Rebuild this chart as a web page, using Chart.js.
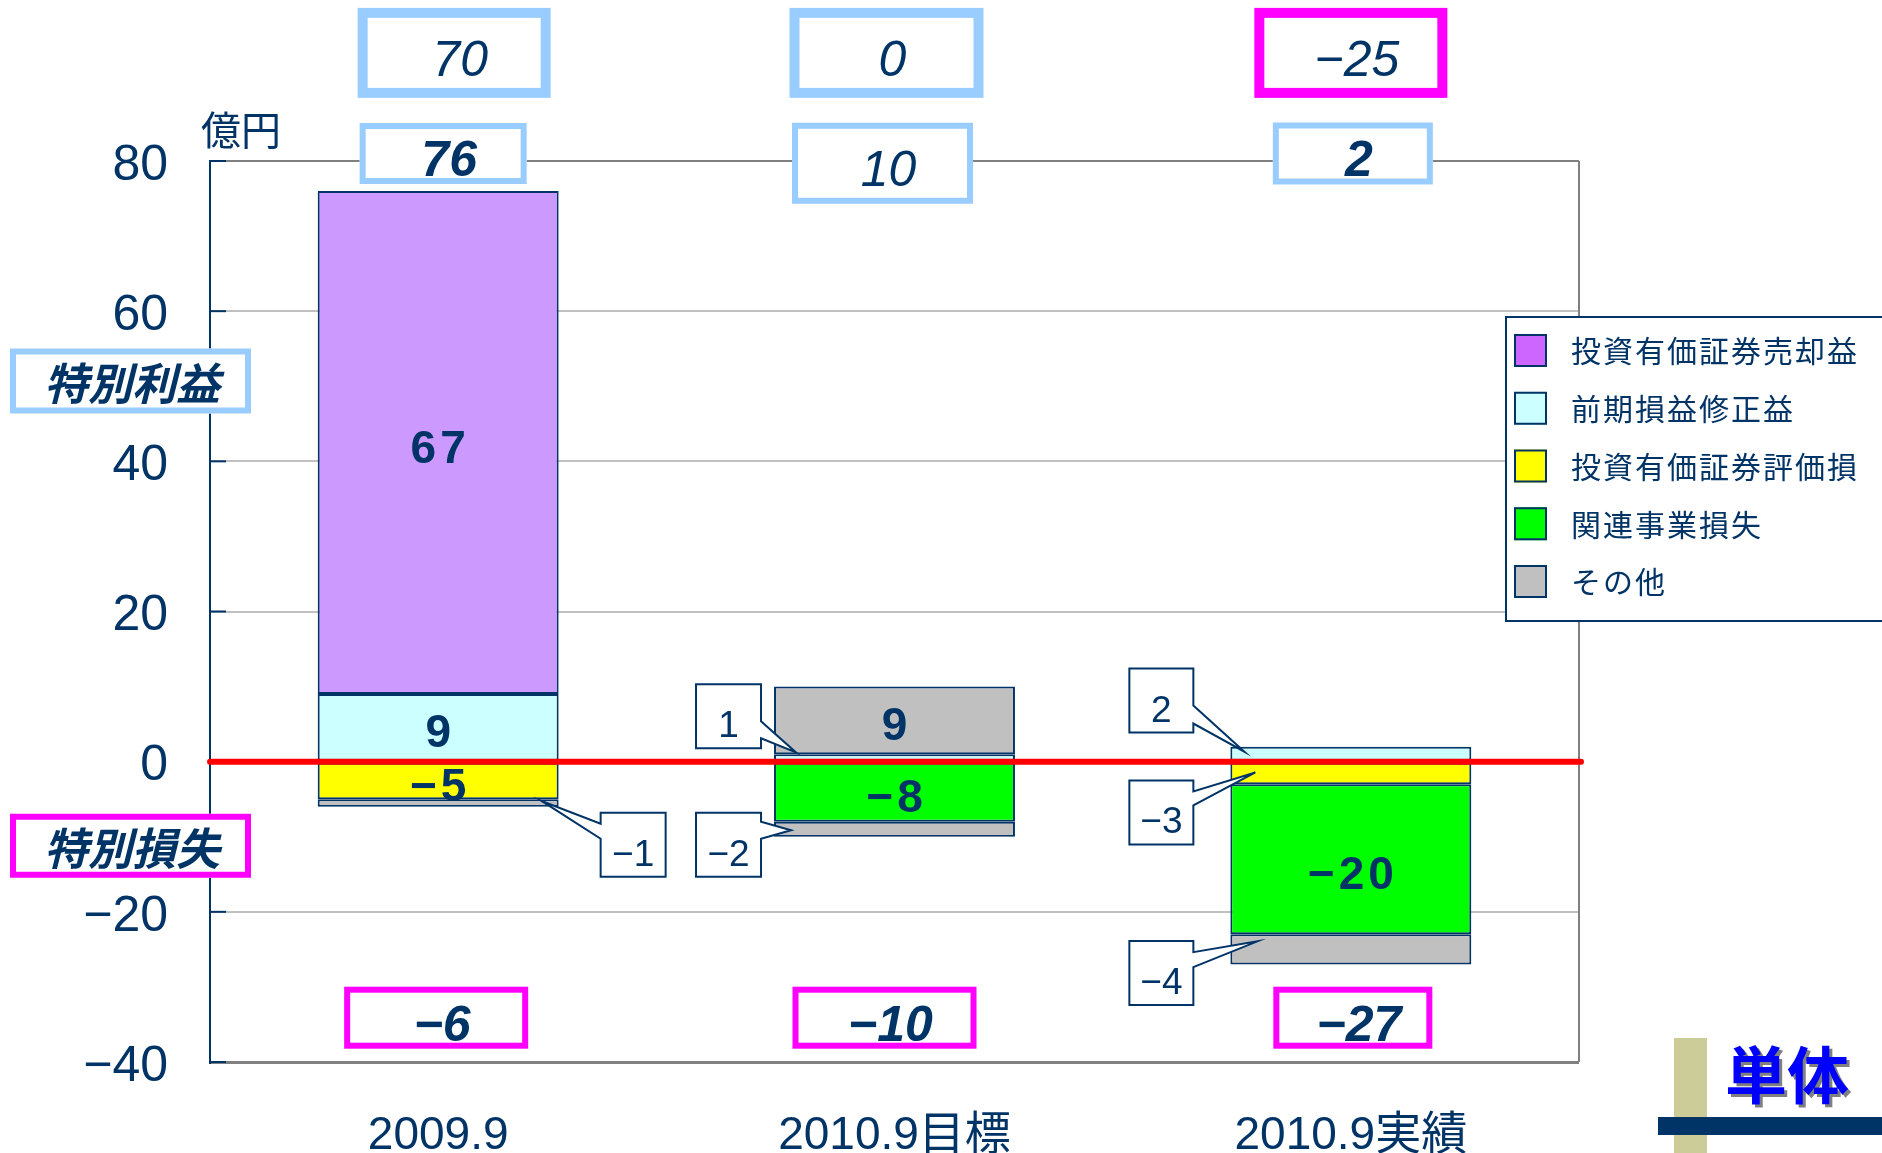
<!DOCTYPE html>
<html><head><meta charset="utf-8">
<script src="https://cdn.jsdelivr.net/npm/chart.js@4.4.1/dist/chart.umd.min.js"></script>
<style>html,body{margin:0;padding:0;background:#fff;overflow:hidden}canvas{display:block}</style>
</head><body>
<canvas id="c" width="1882" height="1153"></canvas>
<script>
// ---- data ----
const categories = ['2009.9', '2010.9目標', '2010.9実績'];
const saleGain = [67, null, null];        // 投資有価証券売却益
const priorGain = [9, 1, 2];              // 前期損益修正益
const valuationLoss = [-5, null, -3];     // 投資有価証券評価損
const affiliateLoss = [null, -8, -20];    // 関連事業損失
const otherPlus = [null, 9, null];        // その他 (+)
const otherMinus = [-1, -2, -4];          // その他 (−)
const netTotal = [70, 0, -25];
const gainTotal = [76, 10, 2];
const lossTotal = [-6, -10, -27];
const yTicks = [-40, -20, 0, 20, 40, 60, 80];
const legendLabels = ['投資有価証券売却益', '前期損益修正益', '投資有価証券評価損', '関連事業損失', 'その他'];

// ---- styles / layout ----
const NAVY = '#003366', LBLUE = '#99CCFF', MAG = '#FF00FF';
const FONT = '"Liberation Sans", "Noto Sans CJK JP", sans-serif';
const CJK = '"Noto Sans CJK JP", sans-serif';
const colors = {sale:'#CC99FF', prior:'#CCFFFF', val:'#FFFF00', aff:'#00FF00', other:'#C0C0C0'};
const legendSwatches = ['#CC66FF', '#CCFFFF', '#FFFF00', '#00FF00', '#C0C0C0'];

const calloutLayout = [
  {ds:5, i:0, side:'right', gap:42, top:-6.8, w:65, h:64, b1:11, b2:26, tipIn:17, tipDy:-2},
  {ds:0, i:1, side:'left', gap:13, top:10.3, w:65, h:64, b1:37, b2:54, tipIn:22, tipDy:-5},
  {ds:5, i:1, side:'left', gap:13, top:-6.8, w:65, h:64, b1:9, b2:26, tipIn:17, tipDy:1},
  {ds:0, i:2, side:'left', gap:37, top:12.4, w:64, h:64, b1:37, b2:55, tipIn:14, tipDy:-2},
  {ds:2, i:2, side:'left', gap:37, top:-2.5, w:64, h:64, b1:11, b2:25, tipIn:25, tipDy:-1},
  {ds:5, i:2, side:'left', gap:37, top:-23.9, w:64, h:64, b1:11, b2:26, tipIn:27, tipDy:-8}
];
const netBoxLayout = {y:[94.4,94.4,94.4], h:[90,90,90], border:10, dx:[16,-8,0], w:[193,194,193], bold:[false,false,false]};
const gainBoxLayout = {y:[81.0,79.7,81.0], h:[61,81,62], border:6, dx:[5,-12,2], w:[167,181,160], bold:[true,false,true]};
const lossBoxLayout = {y:[-34.1,-34.1,-34.1], h:[62,62,62], border:6, dx:[-2,-10,2], w:[184,184,159], bold:[true,true,true]};

function fmt(v){ return (v < 0 ? '\u2212' : '') + Math.abs(v); }

function centerText(ctx, text, cx, cy, font, color, spacing){
  ctx.save();
  ctx.font = font; ctx.fillStyle = color;
  ctx.letterSpacing = (spacing || 0) + 'px';
  ctx.textAlign = 'center'; ctx.textBaseline = 'alphabetic';
  const m = ctx.measureText(text);
  ctx.fillText(text, cx + (spacing||0)/2, cy + (m.actualBoundingBoxAscent - m.actualBoundingBoxDescent)/2);
  ctx.restore();
}
function box(ctx, cx, cy, w, h, border, color){
  ctx.save();
  ctx.fillStyle = '#fff';
  ctx.fillRect(cx - w/2, cy - h/2, w, h);
  ctx.strokeStyle = color; ctx.lineWidth = border;
  ctx.strokeRect(cx - w/2 + border/2, cy - h/2 + border/2, w - border, h - border);
  ctx.restore();
}

const decor = {
  id: 'decor',
  beforeDatasetsDraw(chart){
    const {ctx, chartArea:a} = chart;
    ctx.save();
    ctx.strokeStyle = '#808080'; ctx.lineWidth = 2;
    ctx.beginPath(); ctx.moveTo(a.right, a.top); ctx.lineTo(a.right, a.bottom); ctx.stroke();
    ctx.restore();
  },
  afterDatasetsDraw(chart){
    const {ctx, chartArea:a, scales:{y}} = chart;
    ctx.save();
    ctx.strokeStyle = NAVY; ctx.lineWidth = 2;
    y.ticks.forEach(t => { const py = y.getPixelForValue(t.value);
      ctx.beginPath(); ctx.moveTo(a.left, py); ctx.lineTo(a.left + 16, py); ctx.stroke(); });
    const z = y.getPixelForValue(0);
    ctx.strokeStyle = '#FF0000'; ctx.lineWidth = 6; ctx.lineCap = 'round';
    ctx.beginPath(); ctx.moveTo(a.left, z); ctx.lineTo(a.right + 2, z); ctx.stroke();
    ctx.restore();
  },
  afterDraw(chart){
    const {ctx, chartArea:a, scales:{x, y}} = chart;
    const isCallout = (ds, i) => calloutLayout.some(c => c.ds === ds && c.i === i);
    // in-bar labels
    chart.data.datasets.forEach((d, di) => {
      const meta = chart.getDatasetMeta(di);
      d.data.forEach((v, i) => {
        if (v === null || isCallout(di, i)) return;
        const el = meta.data[i];
        const extra = Math.abs(v) >= 20 && v < 0 ? 10 : 0;
        centerText(ctx, fmt(v), el.x, (el.y + el.base)/2 + 4 + extra, 'bold 46px ' + FONT, NAVY, 4);
      });
    });
    // callouts
    calloutLayout.forEach(c => {
      const el = chart.getDatasetMeta(c.ds).data[c.i];
      const v = chart.data.datasets[c.ds].data[c.i];
      const bl = el.x - el.width/2, br = el.x + el.width/2;
      const T = y.getPixelForValue(c.top), B = T + c.h;
      let L, R, tipX;
      if (c.side === 'right'){ L = br + c.gap; R = L + c.w; tipX = br - c.tipIn; }
      else { R = bl - c.gap; L = R - c.w; tipX = bl + c.tipIn; }
      const tipY = (el.y + el.base)/2 + c.tipDy;
      ctx.save();
      ctx.beginPath();
      if (c.side === 'right'){
        ctx.moveTo(L, T); ctx.lineTo(R, T); ctx.lineTo(R, B); ctx.lineTo(L, B);
        ctx.lineTo(L, T + c.b2); ctx.lineTo(tipX, tipY); ctx.lineTo(L, T + c.b1);
      } else {
        ctx.moveTo(L, T); ctx.lineTo(R, T); ctx.lineTo(R, T + c.b1); ctx.lineTo(tipX, tipY);
        ctx.lineTo(R, T + c.b2); ctx.lineTo(R, B); ctx.lineTo(L, B);
      }
      ctx.closePath();
      ctx.fillStyle = '#fff'; ctx.fill();
      ctx.strokeStyle = NAVY; ctx.lineWidth = 2; ctx.lineJoin = 'miter'; ctx.stroke();
      ctx.restore();
      centerText(ctx, fmt(v), (L + R)/2, (T + B)/2 + 8, '37px ' + FONT, NAVY, 0);
    });
    // summary boxes
    const rows = [[netTotal, netBoxLayout, v => v < 0 ? MAG : LBLUE],
                  [gainTotal, gainBoxLayout, () => LBLUE],
                  [lossTotal, lossBoxLayout, () => MAG]];
    rows.forEach(([vals, lay, col]) => {
      vals.forEach((v, i) => {
        const cx = x.getPixelForValue(i) + lay.dx[i];
        const cy = y.getPixelForValue(lay.y[i]);
        box(ctx, cx, cy, lay.w[i], lay.h[i], lay.border, col(v));
        centerText(ctx, fmt(v), cx + 6, cy + 5, 'italic ' + (lay.bold[i] ? 'bold ' : '') + '50px ' + FONT, NAVY, 0);
      });
    });
    // side labels
    const sideLabels = [['特別利益', 50.7, 65, LBLUE], ['特別損失', -11.2, 64, MAG]];
    sideLabels.forEach(([t, v, h, col]) => {
      const cy = y.getPixelForValue(v);
      box(ctx, 130.5, cy, 241, h, 6, col);
      centerText(ctx, t, 132, cy + 2, 'italic bold 44px ' + CJK, NAVY, 0);
    });
    // unit
    ctx.save();
    ctx.font = '40px ' + CJK; ctx.fillStyle = NAVY; ctx.textAlign = 'left'; ctx.textBaseline = 'middle';
    ctx.fillText('億円', a.left - 9, y.getPixelForValue(84.2));
    ctx.restore();
    // legend
    ctx.save();
    ctx.fillStyle = '#fff'; ctx.fillRect(1506, 317, 400, 304);
    ctx.strokeStyle = NAVY; ctx.lineWidth = 2; ctx.strokeRect(1506, 317, 400, 304);
    legendLabels.forEach((t, k) => {
      const cy = 350 + k * 57.75;
      ctx.fillStyle = legendSwatches[k]; ctx.fillRect(1514, cy - 16, 33, 33);
      ctx.strokeStyle = NAVY; ctx.lineWidth = 2; ctx.strokeRect(1515, cy - 15, 31, 31);
      ctx.font = '30px ' + CJK; ctx.fillStyle = NAVY; ctx.letterSpacing = '2px';
      ctx.textAlign = 'left'; ctx.textBaseline = 'middle';
      ctx.fillText(t, 1571, cy + 1);
    });
    ctx.restore();
    // 単体 badge
    ctx.save();
    ctx.fillStyle = '#CCCC99'; ctx.fillRect(1674, 1038, 33, 115);
    ctx.fillStyle = NAVY; ctx.fillRect(1658, 1117, 224, 18);
    ctx.font = 'bold 62px ' + CJK; ctx.textAlign = 'center'; ctx.textBaseline = 'middle';
    ctx.fillStyle = '#808080'; ctx.fillText('単体', 1790, 1078);
    ctx.fillStyle = '#0000FF'; ctx.fillText('単体', 1787, 1075);
    ctx.restore();
  }
};

const common = {borderColor: NAVY, borderWidth: 2, borderSkipped: false, barPercentage: 0.528, categoryPercentage: 1};
new Chart(document.getElementById('c'), {
  type: 'bar',
  data: {
    labels: categories,
    datasets: [
      {label:'前期損益修正益', data: priorGain, backgroundColor: colors.prior, ...common},
      {label:'投資有価証券売却益', data: saleGain, backgroundColor: colors.sale, ...common},
      {label:'投資有価証券評価損', data: valuationLoss, backgroundColor: colors.val, ...common},
      {label:'関連事業損失', data: affiliateLoss, backgroundColor: colors.aff, ...common},
      {label:'その他', data: otherPlus, backgroundColor: colors.other, ...common},
      {label:'その他', data: otherMinus, backgroundColor: colors.other, ...common}
    ]
  },
  options: {
    responsive: false, animation: false, devicePixelRatio: 1,
    layout: {padding: {left: 0, right: 303, top: 161, bottom: 0}},
    plugins: {legend: {display: false}, tooltip: {enabled: false}},
    scales: {
      x: {stacked: true, grid: {display: false}, border: {display: false},
          ticks: {color: NAVY, font: {family: FONT, size: 46}, padding: 39, maxRotation: 0},
          afterFit: s => { s.height = 91; }},
      y: {stacked: true, min: yTicks[0], max: yTicks[yTicks.length - 1],
          afterBuildTicks: s => { s.ticks = yTicks.map(v => ({value: v})); },
          ticks: {color: NAVY, font: {family: FONT, size: 50}, padding: 42, labelOffset: 5, callback: v => fmt(v)},
          grid: {drawTicks: false,
                 color: c => (c.tick && (c.tick.value === 80 || c.tick.value === -40)) ? '#808080' : '#C0C0C0',
                 lineWidth: c => (c.tick && c.tick.value === -40) ? 3 : 2},
          border: {color: NAVY, width: 2},
          afterFit: s => { s.width = 210; }}
    }
  },
  plugins: [decor]
});
</script>
</body></html>
